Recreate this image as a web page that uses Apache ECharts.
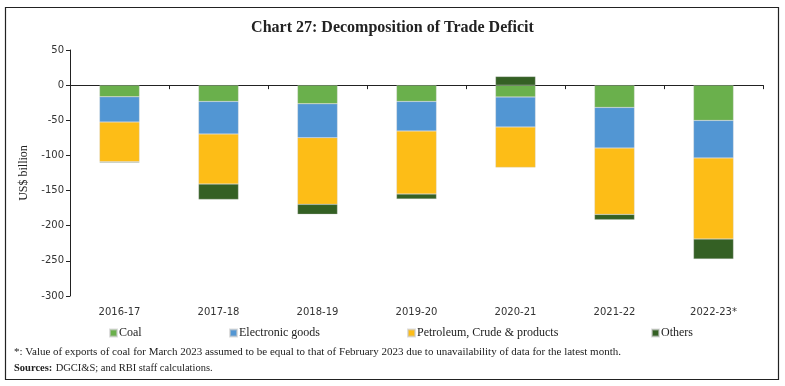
<!DOCTYPE html>
<html><head><meta charset="utf-8">
<script src="https://cdn.jsdelivr.net/npm/echarts@6/dist/echarts.min.js"></script>
<style>html,body{margin:0;padding:0;background:#fff}#c{width:785px;height:386px}</style>
</head><body><div id="c"></div>
<script>
var categories = ['2016-17','2017-18','2018-19','2019-20','2020-21','2021-22','2022-23*'];
var coal = [-16.6, -23.2, -26.5, -23.2, -16.9, -31.7, -50.2];
var electronic = [-36.0, -46.4, -48.3, -42.1, -42.7, -57.8, -53.3];
var petroleum = [-56.4, -71.2, -94.8, -89.7, -57.4, -94.4, -115.5];
var others = [-1.0, -21.8, -14.2, -7.0, 12.4, -7.5, -28.4];
var yTicks = [50, 0, -50, -100, -150, -200, -250, -300];

var serif = '"Liberation Serif","DejaVu Serif",serif';
var sans = '"DejaVu Sans",Verdana,sans-serif';
var chart = echarts.init(document.getElementById('c'), null, {renderer:'canvas'});
function legendAt(name, left){
  return {data:[name], left:left, top:322, itemWidth:7, itemHeight:7, itemGap:2, icon:'rect',
    textStyle:{fontFamily:serif, fontSize:12, color:'#222', padding:[0,0,0,-3]}};
}
function ser(name, data, color){
  return {name:name, type:'bar', stack:'t', data:data, barWidth:40, xAxisIndex:0,
    itemStyle:{color:color, borderColor:'rgba(200,200,200,0.6)', borderWidth:0.5}};
}
chart.setOption({
  animation:false,
  title:{text:'Chart 27: Decomposition of Trade Deficit', left:'center', top:15,
    textStyle:{fontFamily:serif, fontSize:16, fontWeight:'bold', color:'#222'}},
  legend:[legendAt('Coal',104), legendAt('Electronic goods',224), legendAt('Petroleum, Crude & products',402), legendAt('Others',646)],
  grid:{left:70, right:22, top:50, bottom:90},
  xAxis:[
    {type:'category', data:categories, axisLine:{onZero:true, lineStyle:{color:'#222', width:1.2}},
     axisTick:{show:true, length:4, lineStyle:{color:'#222'}}, axisLabel:{show:false}},
    {type:'category', data:categories, position:'bottom', axisLine:{show:false, onZero:false},
     axisTick:{show:false}, axisLabel:{fontFamily:sans, fontSize:10, color:'#333', margin:11}}
  ],
  yAxis:{type:'value', min:-300, max:50, interval:50, name:'US$ billion', nameLocation:'middle', nameGap:40,
    nameTextStyle:{fontFamily:serif, fontSize:12, color:'#222'},
    axisLine:{show:true, lineStyle:{color:'#222'}}, axisTick:{show:true, length:4, lineStyle:{color:'#222'}},
    splitLine:{show:false},
    axisLabel:{fontFamily:sans, fontSize:10, color:'#333', margin:6,
      formatter:function(v){return yTicks.indexOf(v)>=0 ? String(v) : '';}}},
  series:[
    ser('Coal', coal, '#6AB04C'),
    ser('Electronic goods', electronic, '#5296D3'),
    ser('Petroleum, Crude & products', petroleum, '#FDBD17'),
    ser('Others', others, '#346024')
  ],
  graphic:[
    {type:'rect', shape:{x:5.5, y:7.5, width:773, height:372}, style:{fill:null, stroke:'#222', lineWidth:1.2}, silent:true},
    {type:'text', left:14, top:347, style:{text:'*: Value of exports of coal for March 2023 assumed to be equal to that of February 2023 due to unavailability of data for the latest month.', font:'11px '+serif, fill:'#222'}},
    {type:'text', left:14, top:362, style:{rich:{b:{fontWeight:'bold', fontFamily:serif, fontSize:10.5, fill:'#222'}, n:{fontFamily:serif, fontSize:10.5, fill:'#222'}}, text:'{b|Sources:} {n|DGCI&S; and RBI staff calculations.}'}}
  ]
});
</script></body></html>
